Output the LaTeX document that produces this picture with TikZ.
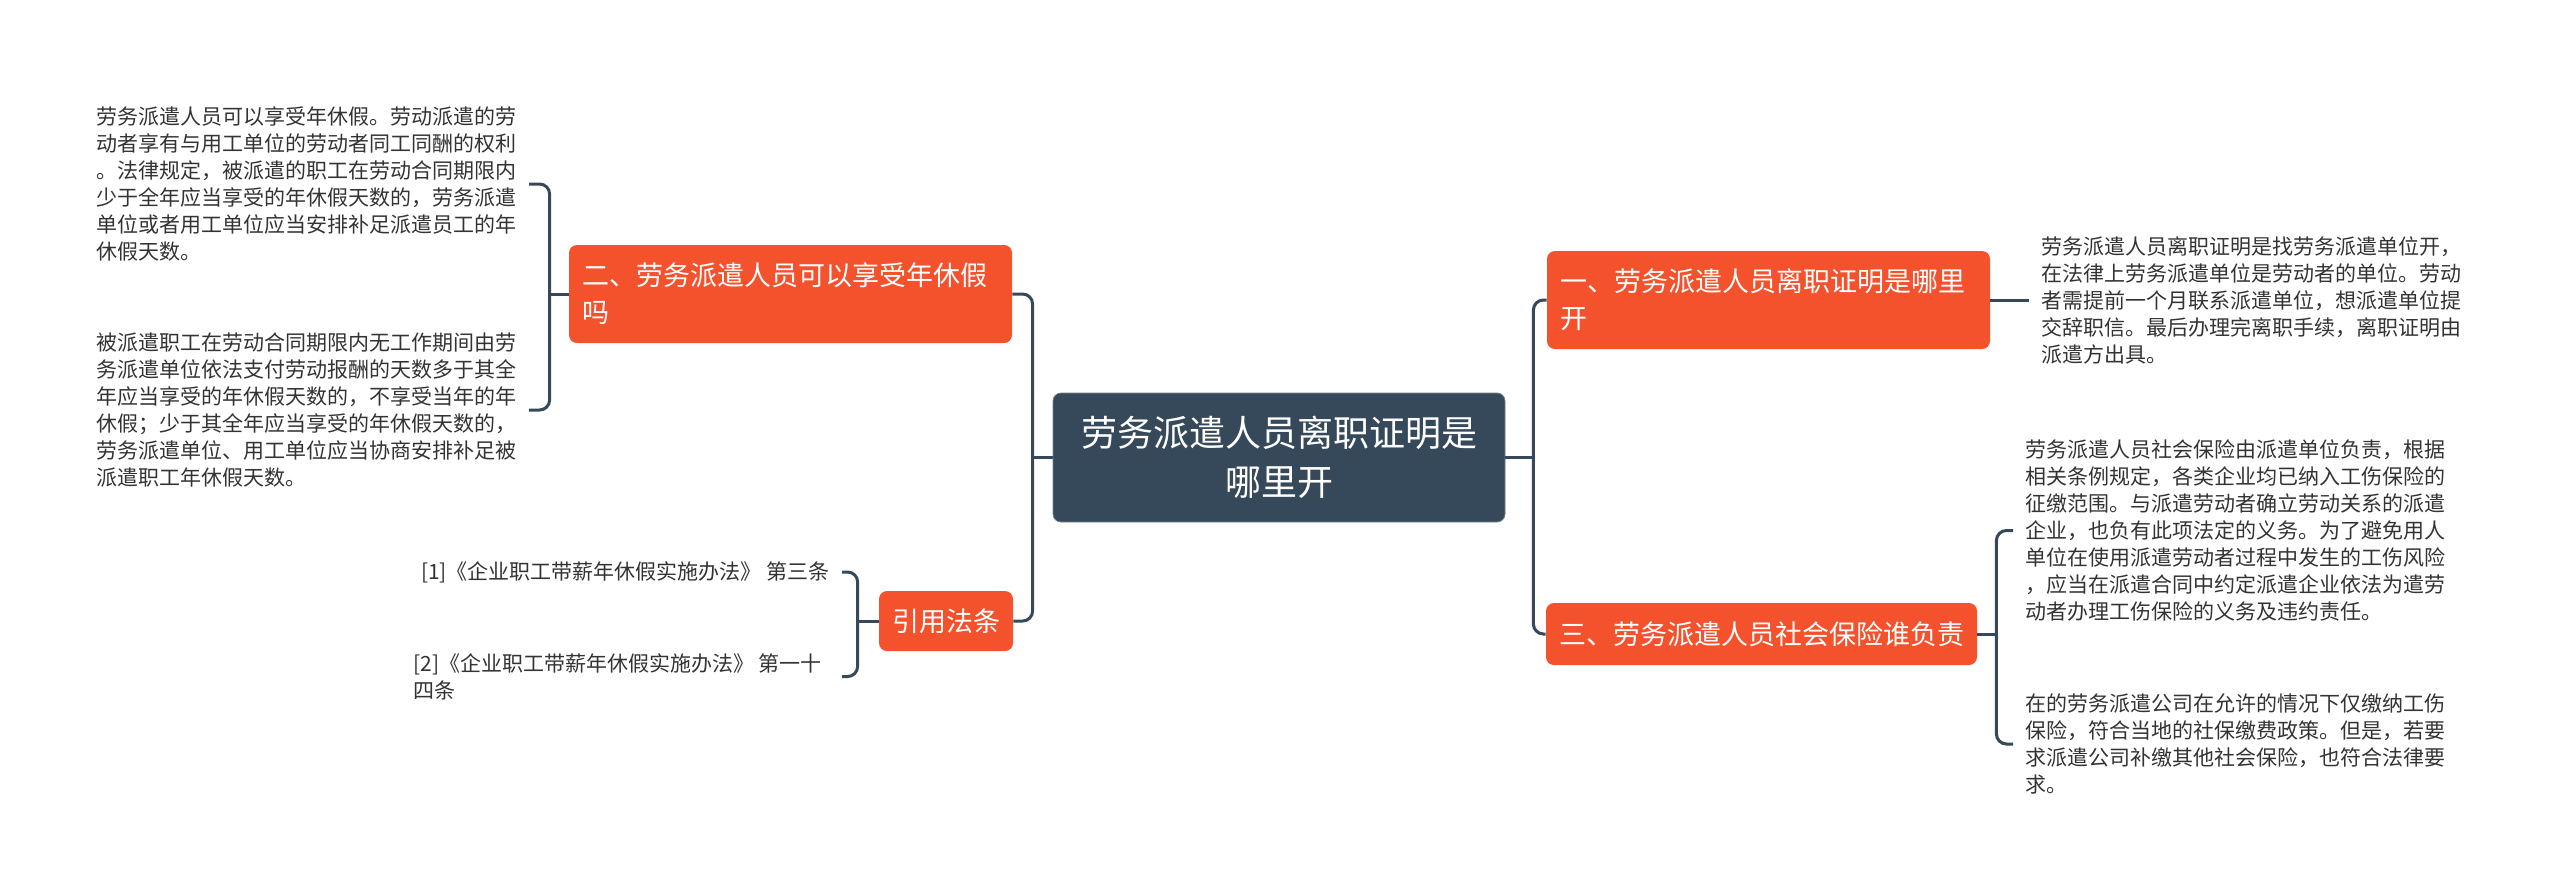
\documentclass[tikz,border=0pt]{standalone}
\usepackage{fontspec}
\setmainfont{Noto Sans CJK SC}
\usetikzlibrary{positioning}
\definecolor{rootblue}{HTML}{36495A}
\definecolor{topicred}{HTML}{F4522D}
\definecolor{leaftext}{HTML}{333333}

\begin{document}
\begin{tikzpicture}[x=0.5pt, y=-0.5pt,
  root/.style={fill=rootblue, draw=rootblue!70!white, text=white, rounded corners=4pt,
    align=center, font=\fontsize{18pt}{24.5pt}\selectfont,
    minimum width=226pt, minimum height=64.5pt},
  topic/.style={fill=topicred, text=white, rounded corners=4pt, align=left,
    inner xsep=6.5pt, font=\fontsize{13.5pt}{18.5pt}\selectfont},
  leaf/.style={text=leaftext, align=left, inner sep=6pt,
    font=\fontsize{10.5pt}{13.5pt}\selectfont},
  link/.style={draw=rootblue, line width=1.5pt, rounded corners=5pt}
]
  \useasboundingbox (0,0) rectangle (2560,895);

  \node[root] (root) at (1279,457.5) {劳务派遣人员离职证明是\\哪里开};

  % topics
  \node[topic, text width=208.5pt, minimum height=49pt] (q1) at (1768.5,300)
    {一、劳务派遣人员离职证明是哪里\\开};
  \node[topic, text width=208.5pt, minimum height=49pt] (q2) at (790.5,294)
    {二、劳务派遣人员可以享受年休假\\吗};
  \node[topic, minimum height=31pt] (q3) at (1761.5,634) {三、劳务派遣人员社会保险谁负责};
  \node[topic, minimum height=30pt] (qr) at (946,621) {引用法条};

  % leaves
  \node[leaf, right=19.5pt of q1] (t1)
    {劳务派遣人员离职证明是找劳务派遣单位开，\\在法律上劳务派遣单位是劳动者的单位。劳动\\者需提前一个月联系派遣单位，想派遣单位提\\交辞职信。最后办理完离职手续，离职证明由\\派遣方出具。};
  \node[leaf, anchor=east] (tA) at (529,184)
    {劳务派遣人员可以享受年休假。劳动派遣的劳\\动者享有与用工单位的劳动者同工同酬的权利\\。法律规定，被派遣的职工在劳动合同期限内\\少于全年应当享受的年休假天数的，劳务派遣\\单位或者用工单位应当安排补足派遣员工的年\\休假天数。};
  \node[leaf, anchor=east] (tB) at (529,410)
    {被派遣职工在劳动合同期限内无工作期间由劳\\务派遣单位依法支付劳动报酬的天数多于其全\\年应当享受的年休假天数的，不享受当年的年\\休假；少于其全年应当享受的年休假天数的，\\劳务派遣单位、用工单位应当协商安排补足被\\派遣职工年休假天数。};
  \node[leaf, anchor=west] (t3a) at (2013,530.5)
    {劳务派遣人员社会保险由派遣单位负责，根据\\相关条例规定，各类企业均已纳入工伤保险的\\征缴范围。与派遣劳动者确立劳动关系的派遣\\企业，也负有此项法定的义务。为了避免用人\\单位在使用派遣劳动者过程中发生的工伤风险\\，应当在派遣合同中约定派遣企业依法为遣劳\\动者办理工伤保险的义务及违约责任。};
  \node[leaf, anchor=west] (t3b) at (2013,744)
    {在的劳务派遣公司在允许的情况下仅缴纳工伤\\保险，符合当地的社保缴费政策。但是，若要\\求派遣公司补缴其他社会保险，也符合法律要\\求。};
  \node[leaf, anchor=east] (c1) at (842,572)
    {[1]《企业职工带薪年休假实施办法》 第三条};
  \node[leaf, anchor=west] (c2) at (401,676.5)
    {[2]《企业职工带薪年休假实施办法》 第一十\\四条};

  % connectors
  \draw[link] (root.west) -- ++(-20,0) coordinate (lj);
  \draw[link] (q2.east) -| (lj) |- (qr.east);
  \draw[link] (root.east) -- ++(28,0) coordinate (rj);
  \draw[link] (q1.west) -| (rj) |- (q3.west);
  \draw[link] (q1.east) -- (t1.west);
  \draw[link] (q3.east) -- ++(19,0) coordinate (bj3);
  \draw[link] (t3a.west) -| (bj3) |- (t3b.west);
  \draw[link] (q2.west) -- ++(-19,0) coordinate (bj2);
  \draw[link] (tA.east) -| (bj2) |- (tB.east);
  \draw[link] (qr.west) -- ++(-21,0) coordinate (bjr);
  \draw[link] (c1.east) -| (bjr) |- (c2.east -| c1.east);
\end{tikzpicture}
\end{document}
